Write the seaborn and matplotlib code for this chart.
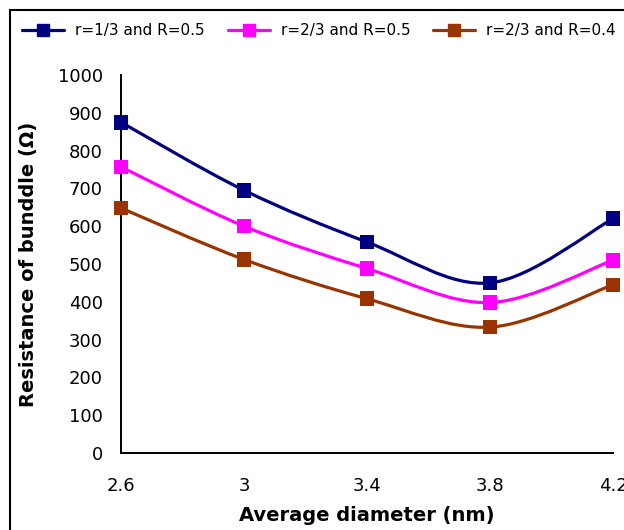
import numpy as np
import pandas as pd
import matplotlib
matplotlib.use("Agg")
import matplotlib.pyplot as plt
import seaborn as sns
from matplotlib.path import Path
from matplotlib.patches import PathPatch, Rectangle
from matplotlib.lines import Line2D

# ---- data ----
diameters = [2.6, 3.0, 3.4, 3.8, 4.2]
series_names = ["r=1/3 and R=0.5", "r=2/3 and R=0.5", "r=2/3 and R=0.4"]
res_r13_R05 = [875, 695, 558, 450, 620]
res_r23_R05 = [757, 600, 488, 398, 510]
res_r23_R04 = [648, 512, 408, 333, 445]
x_ticks = [2.6, 3.0, 3.4, 3.8, 4.2]
x_tick_labels = ["2.6", "3", "3.4", "3.8", "4.2"]
y_ticks = [0, 100, 200, 300, 400, 500, 600, 700, 800, 900, 1000]

colors = ["#000080", "#FF00FF", "#993300"]

sns.set_style("white")
plt.rcParams["font.family"] = ["DejaVu Sans"]
plt.rcParams["text.color"] = "black"
plt.rcParams["axes.labelcolor"] = "black"

rows = []
for name, vals in zip(series_names, [res_r13_R05, res_r23_R05, res_r23_R04]):
    for d, v in zip(diameters, vals):
        rows.append({"diameter": d, "resistance": v, "series": name})
df = pd.DataFrame(rows)

fig = plt.figure(figsize=(6.24, 5.30), dpi=100)
fig.patch.set_facecolor("white")
ax = fig.add_axes([121 / 624, 1 - 453 / 530, (613 - 121) / 624, (453 - 75) / 530])

# outer chart-area frame (Excel style), extends beyond right/bottom edges
fig.patches.append(Rectangle((10 / 624, -0.2), 2.0, 1 - 10 / 530 + 0.2,
                             transform=fig.transFigure, fill=False,
                             edgecolor="black", linewidth=1.5, zorder=0))


def smooth_path(xs, ys):
    pts = np.column_stack([xs, ys]).astype(float)
    n = len(pts)
    verts = [pts[0]]
    codes = [Path.MOVETO]
    for i in range(n - 1):
        p0 = pts[i - 1] if i > 0 else pts[i]
        p1 = pts[i]
        p2 = pts[i + 1]
        p3 = pts[i + 2] if i + 2 < n else pts[i + 1]
        c1 = p1 + (p2 - p0) / 6.0
        c2 = p2 - (p3 - p1) / 6.0
        verts += [c1, c2, p2]
        codes += [Path.CURVE4] * 3
    return Path(verts, codes)


for name, col in zip(series_names, colors):
    sub = df[df["series"] == name]
    patch = PathPatch(smooth_path(sub["diameter"].values, sub["resistance"].values),
                      facecolor="none", edgecolor=col, linewidth=2.3,
                      transform=ax.transData, zorder=2, clip_on=False)
    ax.add_patch(patch)

sns.scatterplot(data=df, x="diameter", y="resistance", hue="series",
                palette=colors, marker="s", s=110, linewidth=0,
                legend=False, ax=ax, zorder=3, clip_on=False)

ax.set_xlim(2.6, 4.2)
ax.set_ylim(0, 1000)
ax.set_xticks(x_ticks)
ax.set_xticklabels(x_tick_labels)
ax.set_yticks(y_ticks)

for s in ["top", "right"]:
    ax.spines[s].set_visible(False)
for s in ["left", "bottom"]:
    ax.spines[s].set_color("black")
    ax.spines[s].set_linewidth(1.4)

ax.tick_params(axis="both", direction="out", length=5, width=1.3,
               colors="black", labelcolor="black", labelsize=13)
ax.tick_params(axis="y", pad=8)
ax.tick_params(axis="x", pad=12)

label_font = dict(family=["DejaVu Sans"], size=14, weight="bold", color="black")
ax.set_xlabel("Average diameter (nm)", fontdict=label_font, labelpad=8)
ax.set_ylabel("Resistance of bunddle (Ω)", fontdict=label_font, labelpad=14)
ax.patch.set_alpha(0)

handles = [Line2D([0], [0], color=c, linewidth=2.3, marker="s", markersize=8)
           for c in colors]
leg = fig.legend(handles, series_names, loc="center left",
                 bbox_to_anchor=(22 / 624, 1 - 31 / 530), ncol=3, frameon=False,
                 fontsize=11, handlelength=2.75, handletextpad=0.72,
                 columnspacing=1.5, borderaxespad=0, borderpad=0)
for t in leg.get_texts():
    t.set_color("black")

fig.savefig("out.png", dpi=100, facecolor="white")
